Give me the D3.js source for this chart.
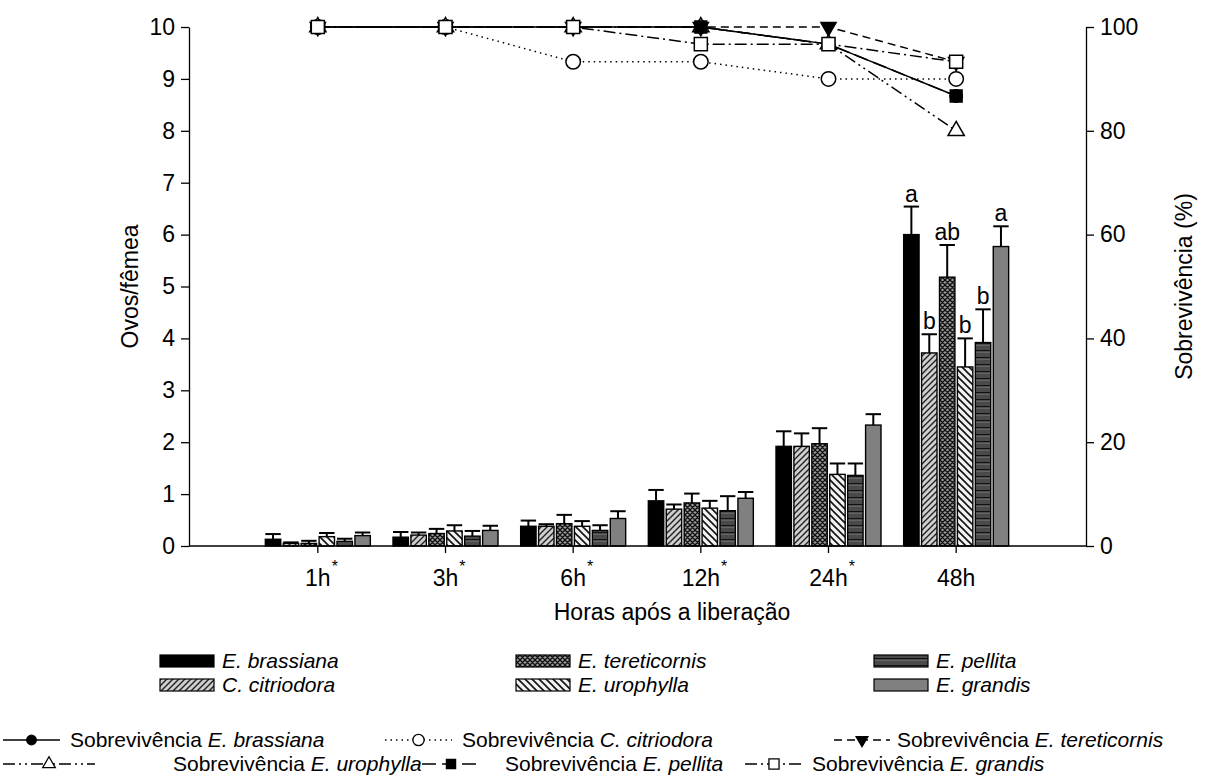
<!DOCTYPE html>
<html>
<head>
<meta charset="utf-8">
<script src="https://cdn.jsdelivr.net/npm/d3@7"></script>
<style>
  body { margin: 0; background: #fff; }
  svg { display: block; font-family: "Liberation Sans", Arial, sans-serif; }
</style>
</head>
<body>
<div class="container"></div>
<script>
// categories on the x axis
const categories = ['1h', '3h', '6h', '12h', '24h', '48h'];
const starred = [true, true, true, true, true, false];

const species = ['E. brassiana', 'C. citriodora', 'E. tereticornis', 'E. urophylla', 'E. pellita', 'E. grandis'];

// eggs per female (left axis)
const eggsBrassiana    = [0.13, 0.17, 0.38, 0.87, 1.92, 6.00];
const eggsCitriodora   = [0.05, 0.21, 0.38, 0.71, 1.92, 3.72];
const eggsTereticornis = [0.05, 0.24, 0.43, 0.83, 1.97, 5.18];
const eggsUrophylla    = [0.18, 0.29, 0.38, 0.73, 1.38, 3.45];
const eggsPellita      = [0.09, 0.19, 0.30, 0.68, 1.36, 3.92];
const eggsGrandis      = [0.20, 0.30, 0.53, 0.92, 2.33, 5.77];

// standard errors
const seBrassiana    = [0.10, 0.10, 0.11, 0.21, 0.29, 0.54];
const seCitriodora   = [0.02, 0.05, 0.04, 0.09, 0.25, 0.36];
const seTereticornis = [0.05, 0.09, 0.17, 0.18, 0.30, 0.62];
const seUrophylla    = [0.07, 0.11, 0.10, 0.14, 0.21, 0.55];
const sePellita      = [0.05, 0.10, 0.10, 0.28, 0.23, 0.64];
const seGrandis      = [0.06, 0.09, 0.14, 0.12, 0.21, 0.39];

const letters48h = ['a', 'b', 'ab', 'b', 'b', 'a'];

// survival % (right axis)
const survBrassiana    = [100, 100, 100, 100, 96.7, 86.7];
const survCitriodora   = [100, 100, 93.3, 93.3, 90, 90];
const survTereticornis = [100, 100, 100, 100, 100, 93.3];
const survUrophylla    = [100, 100, 100, 100, 96.7, 80];
const survPellita      = [100, 100, 100, 100, 96.7, 86.7];
const survGrandis      = [100, 100, 100, 96.7, 96.7, 93.3];

const leftTicks = [0, 1, 2, 3, 4, 5, 6, 7, 8, 9, 10];
const rightTicks = [0, 20, 40, 60, 80, 100];

const eggs = [eggsBrassiana, eggsCitriodora, eggsTereticornis, eggsUrophylla, eggsPellita, eggsGrandis];
const ses = [seBrassiana, seCitriodora, seTereticornis, seUrophylla, sePellita, seGrandis];
const survs = [survBrassiana, survCitriodora, survTereticornis, survUrophylla, survPellita, survGrandis];

const fills = ['#000', 'url(#pCit)', 'url(#pTer)', 'url(#pUro)', 'url(#pPel)', '#808080'];
const dashes = [null, '1.5,4', '8,5', '12,4,2,4,2,4', '14,6', '12,4,2,4'];
const markers = [
  {type: d3.symbolCircle, size: 120, fill: '#000', rot: 0},
  {type: d3.symbolCircle, size: 165, fill: '#fff', rot: 0},
  {type: d3.symbolTriangle, size: 100, fill: '#000', rot: 180},
  {type: d3.symbolTriangle, size: 115, fill: '#fff', rot: 0},
  {type: d3.symbolSquare, size: 140, fill: '#000', rot: 0},
  {type: d3.symbolSquare, size: 170, fill: '#fff', rot: 0}
];

const W = 1217, H = 783;
const plot = {left: 189, right: 1086, top: 27, bottom: 546};
const fontSize = 23;
const legendFont = 21;

const svg = d3.select('.container').append('svg')
  .attr('width', W).attr('height', H);

// hatch patterns
const defs = svg.append('defs');
function pattern(id, size, bg, draw) {
  const p = defs.append('pattern').attr('id', id)
    .attr('patternUnits', 'userSpaceOnUse')
    .attr('width', size).attr('height', size);
  p.append('rect').attr('width', size).attr('height', size).attr('fill', bg);
  draw(p);
}
pattern('pCit', 6, '#cfcfcf', p => p.append('path')
  .attr('d', 'M0,6L6,0M-1,1L1,-1M5,7L7,5').attr('stroke', '#222').attr('stroke-width', 1.4));
pattern('pUro', 7, '#f2f2f2', p => p.append('path')
  .attr('d', 'M0,0L7,7M-1,6L1,8M6,-1L8,1').attr('stroke', '#111').attr('stroke-width', 1.6));
pattern('pTer', 5, '#9a9a9a', p => p.append('path')
  .attr('d', 'M0,0L5,5M5,0L0,5M-1,4L1,6M4,-1L6,1M-1,1L1,-1M4,6L6,4').attr('stroke', '#111').attr('stroke-width', 1.3));
pattern('pPel', 7, '#4a4a4a', p => {
  p.append('rect').attr('y', 0).attr('width', 7).attr('height', 1.6).attr('fill', '#111');
  p.append('rect').attr('y', 1.6).attr('width', 7).attr('height', 0.8).attr('fill', '#8a8a8a');
});

const x = d3.scaleBand().domain(categories).range([254, 1020]);
const xSub = d3.scaleBand().domain(d3.range(species.length)).range([0, 105]).paddingInner(0.14);
const yL = d3.scaleLinear().domain([0, 10]).range([plot.bottom, plot.top]);
const yR = d3.scaleLinear().domain([0, 100]).range([plot.bottom, plot.top]);

// bars
const barData = [];
categories.forEach((c, i) => {
  species.forEach((s, j) => {
    barData.push({cat: c, s: j, v: eggs[j][i], se: ses[j][i], ci: i});
  });
});
const bx = d => x(d.cat) + x.bandwidth() / 2 - 52.5 + xSub(d.s);

const bars = svg.append('g');
bars.selectAll('.bar').data(barData).enter().append('rect')
  .attr('class', 'bar')
  .attr('x', bx)
  .attr('y', d => yL(d.v))
  .attr('width', xSub.bandwidth())
  .attr('height', d => yL(0) - yL(d.v))
  .attr('fill', d => fills[d.s])
  .attr('stroke', '#000').attr('stroke-width', 1.4);

const eb = svg.append('g').attr('stroke', '#000').attr('stroke-width', 2);
eb.selectAll('.ev').data(barData).enter().append('line')
  .attr('x1', d => bx(d) + xSub.bandwidth() / 2).attr('x2', d => bx(d) + xSub.bandwidth() / 2)
  .attr('y1', d => yL(d.v)).attr('y2', d => yL(d.v + d.se));
eb.selectAll('.ec').data(barData).enter().append('line')
  .attr('x1', d => bx(d)).attr('x2', d => bx(d) + xSub.bandwidth())
  .attr('y1', d => yL(d.v + d.se)).attr('y2', d => yL(d.v + d.se));

// significance letters
svg.append('g').selectAll('text')
  .data(barData.filter(d => d.cat === '48h'))
  .enter().append('text')
  .attr('x', d => bx(d) + xSub.bandwidth() / 2)
  .attr('y', d => yL(d.v + d.se) - 5)
  .attr('text-anchor', 'middle')
  .attr('font-size', fontSize)
  .text(d => letters48h[d.s]);

// axes
const axL = svg.append('g').attr('transform', `translate(${plot.left},0)`)
  .call(d3.axisLeft(yL).tickValues(leftTicks).tickSize(8).tickSizeOuter(0).tickPadding(6));
const axR = svg.append('g').attr('transform', `translate(${plot.right},0)`)
  .call(d3.axisRight(yR).tickValues(rightTicks).tickSize(8).tickSizeOuter(0).tickPadding(6));
const axB = svg.append('g').attr('transform', `translate(0,${plot.bottom})`)
  .call(d3.axisBottom(x).tickSize(7).tickSizeOuter(0).tickFormat(''));
axB.select('.domain').attr('d', `M${plot.left},0H${plot.right}`);
[axL, axR, axB].forEach(a => {
  a.selectAll('path,line').attr('stroke', '#000').attr('stroke-width', 1.3);
  a.selectAll('text').attr('font-size', fontSize).attr('fill', '#000')
    .attr('font-family', '"Liberation Sans", Arial, sans-serif');
});

// category labels with asterisks
const catG = svg.append('g');
categories.forEach((c, i) => {
  const cx = x(c) + x.bandwidth() / 2;
  const t = catG.append('text').attr('x', cx).attr('y', plot.bottom + 40)
    .attr('text-anchor', 'middle').attr('font-size', fontSize).text(c);
  if (starred[i]) {
    const w = t.node().getComputedTextLength();
    catG.append('text').attr('x', cx + w / 2 + 1).attr('y', plot.bottom + 26)
      .attr('font-size', 16).text('*');
  }
});

// axis titles
svg.append('text').attr('x', 672).attr('y', 620)
  .attr('text-anchor', 'middle').attr('font-size', fontSize).text('Horas após a liberação');
svg.append('text').attr('transform', `translate(138,${(plot.top + plot.bottom) / 2}) rotate(-90)`)
  .attr('text-anchor', 'middle').attr('font-size', fontSize).text('Ovos/fêmea');
svg.append('text').attr('transform', `translate(1192,${(plot.top + plot.bottom) / 2}) rotate(-90)`)
  .attr('text-anchor', 'middle').attr('font-size', fontSize).text('Sobrevivência (%)');

// survival lines
const cx = c => x(c) + x.bandwidth() / 2;
const line = d3.line().x((d, i) => cx(categories[i])).y(d => yR(d));
survs.forEach((s, j) => {
  svg.append('path').datum(s)
    .attr('d', line).attr('fill', 'none')
    .attr('stroke', '#000').attr('stroke-width', 1.5)
    .attr('stroke-dasharray', dashes[j]);
});
survs.forEach((s, j) => {
  const m = markers[j];
  svg.append('g').selectAll('path').data(s).enter().append('path')
    .attr('d', d3.symbol().type(m.type).size(m.size))
    .attr('transform', (d, i) => `translate(${cx(categories[i])},${yR(d)}) rotate(${m.rot})`)
    .attr('fill', m.fill).attr('stroke', '#000').attr('stroke-width', 1.5);
});

// bar legend
const barLegend = [
  {s: 0, x: 160, y: 661}, {s: 2, x: 516, y: 661}, {s: 4, x: 874, y: 661},
  {s: 1, x: 160, y: 685}, {s: 3, x: 516, y: 685}, {s: 5, x: 874, y: 685}
];
const bl = svg.append('g');
barLegend.forEach(e => {
  bl.append('rect').attr('x', e.x).attr('y', e.y - 6).attr('width', 54).attr('height', 12)
    .attr('fill', fills[e.s]).attr('stroke', '#000').attr('stroke-width', 1.2);
  bl.append('text').attr('x', e.x + 62).attr('y', e.y + 7).attr('font-size', legendFont)
    .attr('font-style', 'italic').text(species[e.s]);
});

// line legend
const ll = svg.append('g');
function lineEntry(s, x0, x1, tx, y) {
  const m = markers[s];
  ll.append('line').attr('x1', x0).attr('x2', x1).attr('y1', y).attr('y2', y)
    .attr('stroke', '#000').attr('stroke-width', 1.5).attr('stroke-dasharray', dashes[s]);
  ll.append('path').attr('d', d3.symbol().type(m.type).size(m.size * 0.6))
    .attr('transform', `translate(${(x0 + x1) / 2},${y}) rotate(${m.rot})`)
    .attr('fill', m.fill).attr('stroke', '#000').attr('stroke-width', 1.3);
  const t = ll.append('text').attr('x', tx).attr('y', y + 7).attr('font-size', legendFont);
  t.append('tspan').text('Sobrevivência ');
  t.append('tspan').attr('font-style', 'italic').text(species[s]);
}
lineEntry(0, 3, 60, 70, 740);
lineEntry(1, 385, 452, 462, 740);
lineEntry(2, 834, 890, 897, 740);
lineEntry(3, 3, 95, 173, 764);
lineEntry(4, 422, 480, 505, 764);
lineEntry(5, 745, 803, 812, 764);
</script>
</body>
</html>
